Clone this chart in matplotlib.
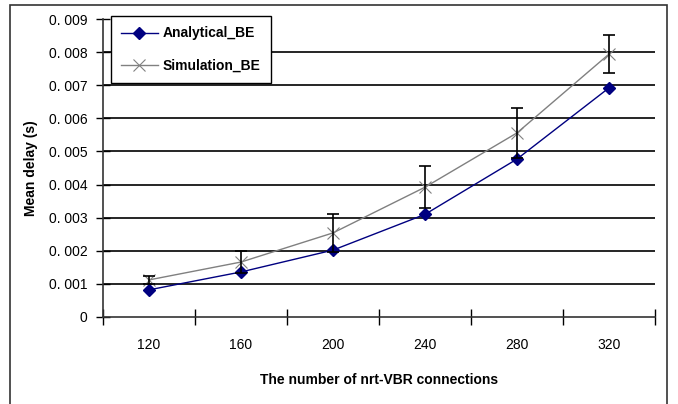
import matplotlib
matplotlib.use('Agg')
import matplotlib.pyplot as plt
from matplotlib.patches import Rectangle

# values
connections = ['120', '160', '200', '240', '280', '320']
analytical_be = [0.00082, 0.00136, 0.00202, 0.00310, 0.00477, 0.00692]
simulation_be = [0.00112, 0.00166, 0.00254, 0.00392, 0.00556, 0.00794]
simulation_err = [0.00012, 0.00034, 0.00057, 0.00064, 0.00075, 0.00058]
yticks = [0, 0.001, 0.002, 0.003, 0.004, 0.005, 0.006, 0.007, 0.008, 0.009]
ytick_labels = ['0', '0. 001', '0. 002', '0. 003', '0. 004', '0. 005',
                '0. 006', '0. 007', '0. 008', '0. 009']

plt.rcParams['font.family'] = ['Liberation Sans', 'DejaVu Sans']

W, H = 678, 404
fig = plt.figure(figsize=(W / 100, H / 100), dpi=100)
fig.patch.set_facecolor('white')

# outer chart border (bottom runs off the image)
fig.patches.append(Rectangle((10 / W, -0.05), 657 / W, 1.05 - 5 / H,
                             transform=fig.transFigure, fill=False,
                             edgecolor='#333333', linewidth=1.2))

ax = fig.add_axes([103 / W, 87 / H, 552 / W, 298 / H])
x = list(range(len(connections)))

ax.plot(x, analytical_be, color='#000080', linewidth=1.0, marker='D',
        markersize=6.5, markerfacecolor='#000080', markeredgecolor='#000080',
        label='Analytical_BE', zorder=3)
ax.plot(x, simulation_be, color='#808080', linewidth=1.0, marker='x',
        markersize=9, markeredgewidth=0.8, label='Simulation_BE', zorder=3)
ax.errorbar(x, simulation_be, yerr=simulation_err, fmt='none', ecolor='black',
            elinewidth=1.2, capsize=4, capthick=1.2, zorder=4)

ax.set_xlim(-0.5, len(connections) - 0.5)
ax.set_ylim(0, 0.009)
ax.set_xticks(x)
ax.set_xticklabels(connections)
ax.set_xticks([i - 0.5 for i in range(len(connections) + 1)], minor=True)
ax.tick_params(axis='x', which='major', length=0, pad=15, labelsize=10)
ax.tick_params(axis='x', which='minor', length=11, direction='inout', width=1)
ax.set_yticks(yticks)
ax.set_yticklabels(ytick_labels)
ax.tick_params(axis='y', length=10, direction='inout', width=1, labelsize=10, pad=6)

for v in yticks[1:-1]:
    ax.axhline(v, color='black', linewidth=1.2, zorder=1)

for s in ['top', 'right']:
    ax.spines[s].set_visible(False)
for s in ['left', 'bottom']:
    ax.spines[s].set_color('#333333')
    ax.spines[s].set_linewidth(1.2)

ax.set_xlabel('The number of nrt-VBR connections', fontsize=10, fontweight='bold', labelpad=15)
ax.set_ylabel('Mean delay (s)', fontsize=10, fontweight='bold', labelpad=8)

leg = ax.legend(loc='upper left', bbox_to_anchor=(111 / W, 1 - 16 / H),
                bbox_transform=fig.transFigure, borderaxespad=0,
                fancybox=False, edgecolor='black', framealpha=1,
                prop={'weight': 'bold', 'size': 10},
                handlelength=2.6, handletextpad=0.35, labelspacing=1.3,
                borderpad=0.75)
leg.get_frame().set_linewidth(1.0)
leg.set_zorder(5)

fig.savefig('out.png', dpi=100)
